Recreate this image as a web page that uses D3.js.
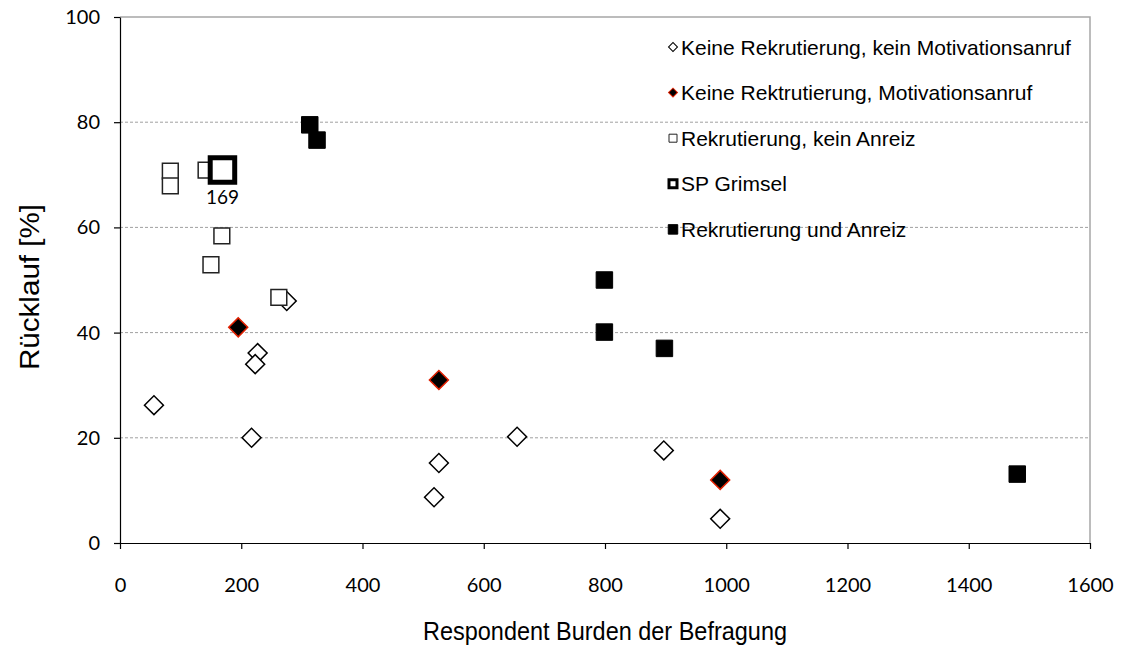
<!DOCTYPE html>
<html>
<head>
<meta charset="utf-8">
<script src="https://cdn.jsdelivr.net/npm/d3@7"></script>
<style>
  html, body { margin: 0; padding: 0; background: #fff; }
  svg { display: block; }
</style>
</head>
<body>
<svg id="chart" width="1122" height="648"></svg>
<script>
// ---- Data ----
const seriesNames = [
  "Keine Rekrutierung, kein Motivationsanruf",
  "Keine Rektrutierung, Motivationsanruf",
  "Rekrutierung, kein Anreiz",
  "SP Grimsel",
  "Rekrutierung und Anreiz"
];
// Keine Rekrutierung, kein Motivationsanruf
const noRecNoCallX = [56, 217, 227, 223, 275, 518, 526, 655, 897, 990];
const noRecNoCallY = [26.2, 20.0, 36.1, 34.0, 46.0, 8.7, 15.2, 20.2, 17.6, 4.6];
// Keine Rektrutierung, Motivationsanruf
const noRecCallX = [195, 526, 990];
const noRecCallY = [41.0, 31.0, 12.0];
// Rekrutierung, kein Anreiz
const recNoIncX = [83, 83, 142, 168, 150, 262];
const recNoIncY = [70.7, 67.9, 70.9, 58.4, 52.9, 46.7];
// SP Grimsel
const grimselX = [169];
const grimselY = [70.9];
const grimselLabel = ["169"];
// Rekrutierung und Anreiz
const recIncX = [313, 325, 799, 799, 898, 1480];
const recIncY = [79.5, 76.6, 50.0, 40.1, 37.0, 13.1];

const xTicks = [0, 200, 400, 600, 800, 1000, 1200, 1400, 1600];
const yTicks = [0, 20, 40, 60, 80, 100];
const xTitle = "Respondent Burden der Befragung";
const yTitle = "Rücklauf [%]";

// ---- Layout ----
const svg = d3.select("#chart");
const pLeft = 120, pRight = 1090, pTop = 17, pBottom = 543;
const x = d3.scaleLinear().domain([0, 1600]).range([pLeft, pRight]);
const y = d3.scaleLinear().domain([0, 100]).range([pBottom, pTop]);

const tickFont = "Lato, 'Open Sans', sans-serif";
const textFont = "'Liberation Sans', Arial, sans-serif";

// gridlines
svg.append("g").selectAll("line").data(yTicks.filter(d => d > 0 && d < 100)).join("line")
  .attr("x1", pLeft).attr("x2", pRight)
  .attr("y1", d => y(d)).attr("y2", d => y(d))
  .attr("stroke", "#a0a0a0").attr("stroke-width", 1).attr("stroke-dasharray", "3,2");

// plot border (top, right)
svg.append("path")
  .attr("d", `M${pLeft},${pTop}H${pRight}V${pBottom}`)
  .attr("fill", "none").attr("stroke", "#a6a6a6").attr("stroke-width", 1.5);

// axes
const fmt = d3.format("d");
const xAxis = svg.append("g").attr("transform", `translate(0,${pBottom})`)
  .call(d3.axisBottom(x).tickValues(xTicks).tickFormat(fmt).tickSize(6).tickPadding(29).tickSizeOuter(0));
const yAxis = svg.append("g").attr("transform", `translate(${pLeft},0)`)
  .call(d3.axisLeft(y).tickValues(yTicks).tickFormat(fmt).tickSize(6).tickPadding(14).tickSizeOuter(0));
[xAxis, yAxis].forEach(g => {
  g.select(".domain").attr("stroke", "#000").attr("stroke-width", 1.2);
  g.selectAll(".tick line").attr("stroke", "#000").attr("stroke-width", 1.2);
  g.selectAll(".tick text").attr("font-family", tickFont).attr("font-size", 20).attr("fill", "#000");
});

// axis titles
svg.append("text").attr("x", 605).attr("y", 640)
  .attr("text-anchor", "middle").attr("font-family", textFont).attr("font-size", 26)
  .attr("textLength", 364).attr("lengthAdjust", "spacingAndGlyphs")
  .attr("fill", "#000").text(xTitle);
svg.append("text").attr("transform", `translate(39,287) rotate(-90)`)
  .attr("text-anchor", "middle").attr("font-family", textFont).attr("font-size", 27)
  .attr("textLength", 166).attr("lengthAdjust", "spacingAndGlyphs")
  .attr("fill", "#000").text(yTitle);

// ---- markers ----
const sq = s => d3.symbol().type(d3.symbolSquare).size(s)();
const zip = (xs, ys) => xs.map((v, i) => ({ x: v, y: ys[i] }));

const styles = [
  { data: zip(noRecNoCallX, noRecNoCallY), size: 180, rot: 45, fill: "#fff", stroke: "#000", sw: 1.5 },
  { data: zip(noRecCallX, noRecCallY), size: 180, rot: 45, fill: "#000", stroke: "#e02000", sw: 1.5 },
  { data: zip(recNoIncX, recNoIncY), size: 250, rot: 0, fill: "#fff", stroke: "#222", sw: 1.5 },
  { data: zip(grimselX, grimselY), size: 600, rot: 0, fill: "#fff", stroke: "#000", sw: 5 },
  { data: zip(recIncX, recIncY), size: 272, rot: 0, fill: "#000", stroke: "#000", sw: 1 }
];

styles.forEach(s => {
  svg.append("g").selectAll("path").data(s.data).join("path")
    .attr("d", sq(s.size))
    .attr("transform", d => `translate(${x(d.x)},${y(d.y)}) rotate(${s.rot})`)
    .attr("fill", s.fill).attr("stroke", s.stroke).attr("stroke-width", s.sw)
    .attr("stroke-linejoin", "miter");
});

// Grimsel label
svg.append("g").selectAll("text").data(zip(grimselX, grimselY)).join("text")
  .attr("x", d => x(d.x)).attr("y", d => y(d.y) + 34)
  .attr("text-anchor", "middle").attr("font-family", tickFont).attr("font-size", 19)
  .attr("fill", "#000").text((d, i) => grimselLabel[i]);

// ---- legend ----
const legendSyms = [
  { size: 40, rot: 45, fill: "#fff", stroke: "#000", sw: 1 },
  { size: 40, rot: 45, fill: "#000", stroke: "#e02000", sw: 1 },
  { size: 64, rot: 0, fill: "#fff", stroke: "#222", sw: 1 },
  { size: 64, rot: 0, fill: "#fff", stroke: "#000", sw: 3 },
  { size: 90, rot: 0, fill: "#000", stroke: "#000", sw: 1 }
];
const leg = svg.append("g");
seriesNames.forEach((name, i) => {
  const cy = 47 + i * 45.6;
  const s = legendSyms[i];
  leg.append("path").attr("d", sq(s.size))
    .attr("transform", `translate(673,${cy}) rotate(${s.rot})`)
    .attr("fill", s.fill).attr("stroke", s.stroke).attr("stroke-width", s.sw);
  leg.append("text").attr("x", 681).attr("y", cy).attr("dy", "0.36em")
    .attr("font-family", textFont).attr("font-size", 21).attr("fill", "#000").text(name);
});
</script>
</body>
</html>
